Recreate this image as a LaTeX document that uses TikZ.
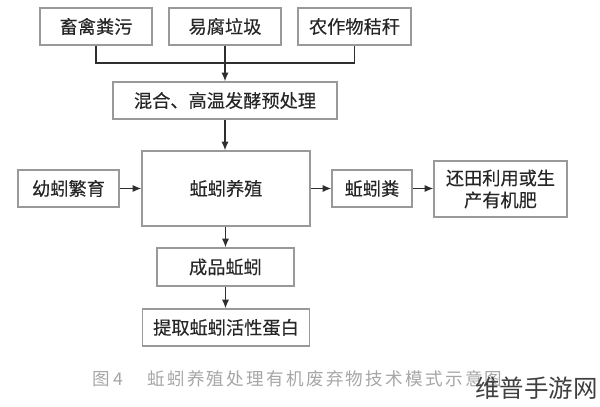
\documentclass[tikz,border=0pt]{standalone}
\usepackage{fontspec}
\setmainfont{Noto Sans CJK SC}
\newfontfamily\capFont[LetterSpace=13]{Noto Sans CJK SC}
\newfontfamily\boxFont[FakeBold=0.2]{Noto Sans CJK SC}
\usetikzlibrary{arrows.meta}
\definecolor{boxGray}{HTML}{999999}
\definecolor{lineDark}{HTML}{2E2E2E}
\definecolor{capGray}{HTML}{A6A6A6}
\tikzset{
	flowBox/.style={
		,	draw=boxGray
		,	line width=0.85pt
		,	fill=white
		,	text=black!85
		,	inner sep=0pt
		,	align=center
		,	font=\fontsize{12.95}{15.6}\selectfont\boxFont
	},
	flowEdge/.style={
		,	draw=lineDark
		,	line width=1pt
		,	-{Latex[length=2.2mm, width=1.8mm]}
	},
	busEdge/.style={
		,	draw=lineDark
		,	line width=1.1pt
	},
}

\begin{document}
\begin{tikzpicture}[x=0.025cm, y=-0.025cm]
\useasboundingbox (0,0) rectangle (600,407);

    \node[flowBox, minimum width=2.8cm, minimum height=0.925cm] (B1) at (96,26.5){畜禽粪污};
    \node[flowBox, minimum width=2.8cm, minimum height=0.925cm] (B2) at (225,26.5){易腐垃圾};
    \node[flowBox, minimum width=2.825cm, minimum height=0.925cm] (B3) at (354.5,26.5){农作物秸秆};

    \node[flowBox, minimum width=5.6cm, minimum height=0.925cm] (MX) at (225,100.5){混合、高温发酵预处理};
    \node[flowBox, minimum width=4.2cm, minimum height=1.875cm] (MN) at (226,188.5){蚯蚓养殖};
    \node[flowBox, minimum width=2.525cm, minimum height=0.925cm] (YG) at (68.5,188.5){幼蚓繁育};
    \node[flowBox, minimum width=2cm, minimum height=0.925cm] (DG) at (372,188.5){蚯蚓粪};
    \node[flowBox, minimum width=3.325cm, minimum height=1.4cm] (FM) at (500.5,189){还田利用或生\\产有机肥};
    \node[flowBox, minimum width=3.425cm, minimum height=0.95cm] (PD) at (225.5,267){成品蚯蚓};
    \node[flowBox, minimum width=4.175cm, minimum height=0.925cm] (PT) at (226,327.5){提取蚯蚓活性蛋白};

    \coordinate (J1) at (225,63);

    \draw[busEdge] (B1.south) |- (J1);
    \draw[busEdge] (B3.south) |- (J1);
    \draw[flowEdge] (B2) -- (MX);
    \draw[flowEdge] (MX) -- (MX |- MN.north);
    \draw[flowEdge] (YG) -- (YG -| MN.west);
    \draw[flowEdge] (MN.east |- DG) -- (DG);
    \draw[flowEdge] (DG) -- (DG -| FM.west);
    \draw[flowEdge] (PD |- MN.south) -- (PD);
    \draw[flowEdge] (PD) -- (PD |- PT.north);

    \node[text=capGray, inner sep=0pt, anchor=west, font=\fontsize{12.5}{15}\selectfont] (CP1) at (92,379){图 4};
    \node[text=capGray, inner sep=0pt, anchor=west, font=\fontsize{12.5}{15}\selectfont\capFont] (CP2) at (147,379){蚯蚓养殖处理有机废弃物技术模式示意图};
    \node[text=black!75, inner sep=0pt, anchor=east, font=\fontsize{17.4}{20}\selectfont] (WM) at (598,388){维普手游网};
\end{tikzpicture}
\end{document}
